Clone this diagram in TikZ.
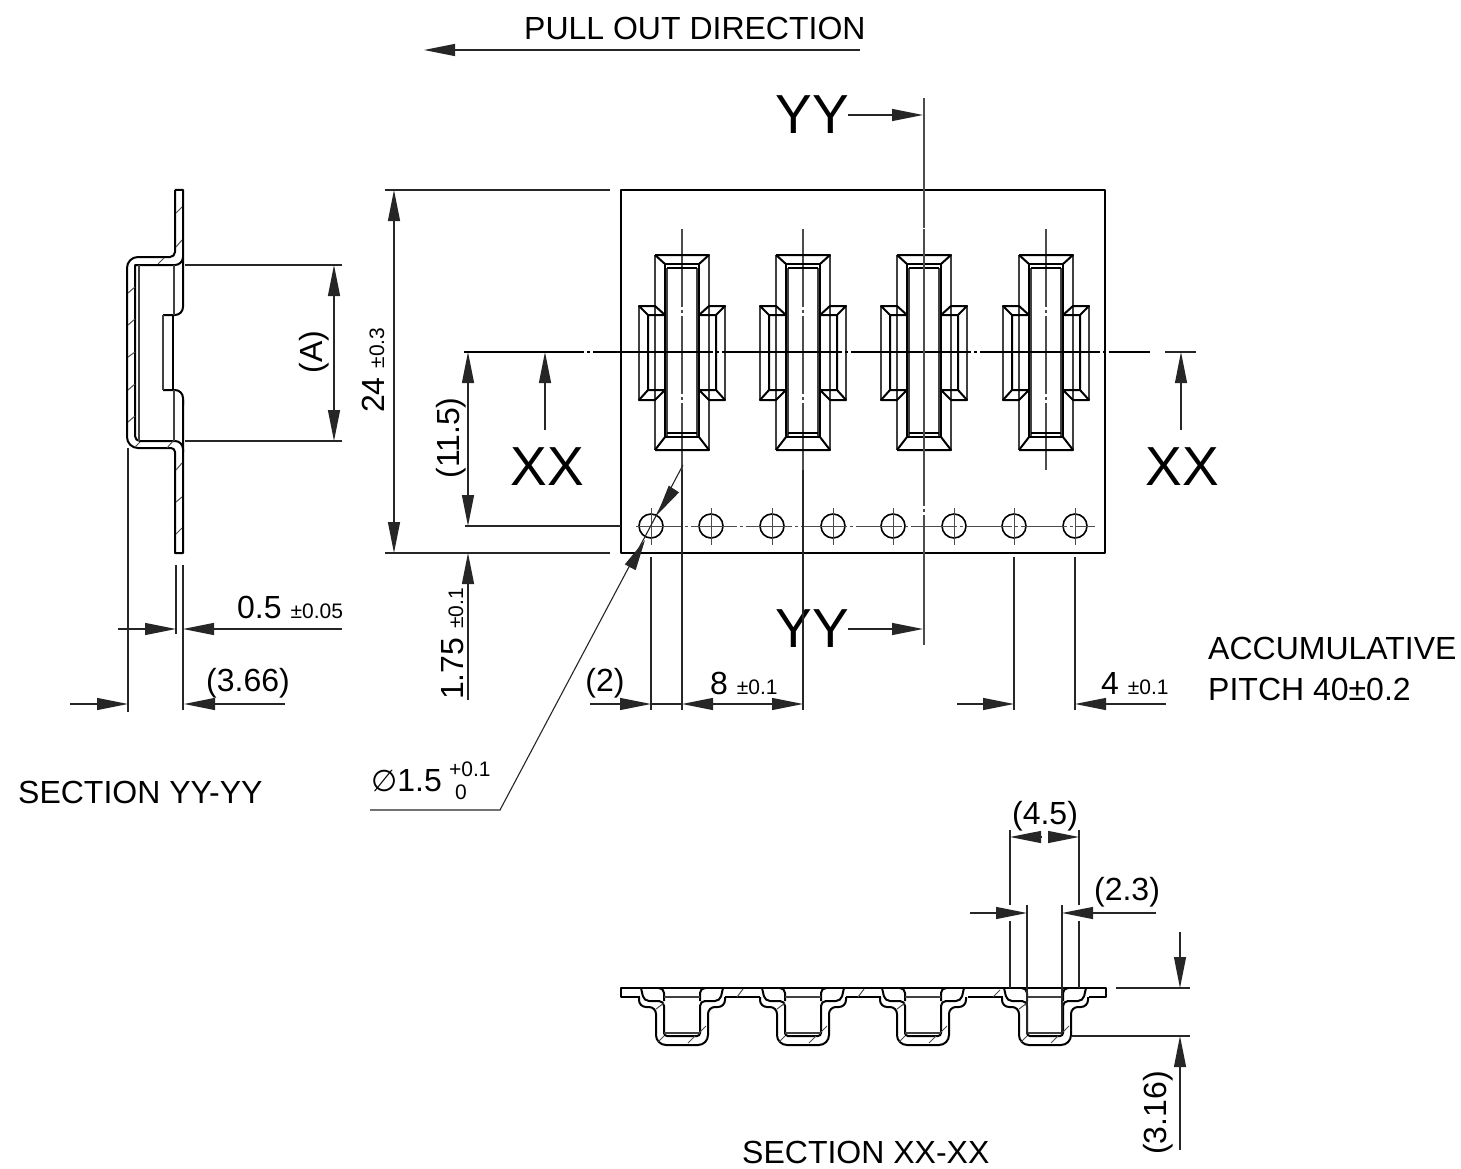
\documentclass[tikz,border=0pt]{standalone}
\usepackage{fontspec}
\setmainfont{Liberation Sans}
\newfontfamily\symbolfont{DejaVu Sans}
\usetikzlibrary{arrows.meta}
\begin{document}
\begin{tikzpicture}[x=1pt,y=-1pt,
    >={Triangle[length=31pt,width=12pt]},
    outline/.style={line width=2pt,line join=round},
    edge/.style={line width=1.2pt,black!75},
    dimline/.style={line width=1.1pt,black!85},
    centerline/.style={line width=1.1pt,black!70,dash pattern=on 78pt off 3pt on 3pt off 3pt},
    holeline/.style={line width=1pt,black!70,dash pattern=on 46pt off 3pt on 3pt off 3pt},
    hatch/.style={line width=1pt,black!70},
    label/.style={inner sep=0pt,font=\fontsize{32}{32}\selectfont},
    tol/.style={inner sep=0pt,font=\fontsize{21}{21}\selectfont},
    bigmark/.style={inner sep=0pt,font=\fontsize{55}{55}\selectfont}]
\def\tolsize{\fontsize{21}{21}\selectfont}
\useasboundingbox (0,0) rectangle (1461,1169);

% top view
\draw[outline] (621,190) rectangle (1105,553);
\foreach \cx in {682,803,924,1046} {
    \begin{scope}[shift={(\cx,0)}]
        \draw[centerline] (0,229) -- (0,470);
        \draw[edge] (-27,255) -- (-27,450) (27,255) -- (27,450) (-15,268) -- (-15,437) (15,268) -- (15,437);
        \draw[edge] (-43,306) -- (-43,400) (43,306) -- (43,400);
        \draw[outline] (-17,264) rectangle (17,437);
        \draw[outline] (-27,255) -- (27,255) -- (17,264) (-27,255) -- (-17,264);
        \draw[outline] (-27,450) -- (27,450) -- (17,437) (-27,450) -- (-17,437);
        \draw[line width=1.4pt] (-15,268) -- (15,268) (-15,433) -- (15,433);
        \draw[outline] (-17,315) -- (-27,306) -- (-43,306) -- (-34,315) -- (-17,315) (-34,315) -- (-34,390) -- (-17,390) -- (-27,400) -- (-43,400) -- (-34,390);
        \draw[outline] (17,315) -- (27,306) -- (43,306) -- (34,315) -- (17,315) (34,315) -- (34,390) -- (17,390) -- (27,400) -- (43,400) -- (34,390);
    \end{scope}
}
\foreach \hx in {651,711,772,833,893,954,1014,1075} {
    \draw[outline,line width=1.6pt] (\hx,526) circle (12pt);
    \draw[hatch] (\hx,508) -- (\hx,545);
}
\draw[holeline] (636,526) -- (1095,526);
\draw[line width=1.2pt,dash pattern=on 120pt off 3pt on 3pt off 3pt] (464,352) -- (1150,352);
\draw[centerline,dash pattern=on 130pt off 3pt on 3pt off 3pt] (924,98) -- (924,645);

% section marks
\node[bigmark] (markYYtop) at (812,115) {YY};
\node[bigmark] (markYYbot) at (812,629) {YY};
\node[bigmark] (markXXleft) at (547,467) {XX};
\node[bigmark] (markXXright) at (1182,467) {XX};
\draw[dimline,->] (848,115) -- (923,115);
\draw[dimline,->] (848,629) -- (923,629);
\draw[dimline,->] (545,430) -- (545,352);
\draw[dimline,->] (1181,430) -- (1181,352);
\draw[dimline] (1165,352) -- (1196,352);

% pull out
\node[label,anchor=base west] (pullout) at (524,40) {PULL OUT DIRECTION};
\draw[dimline,->] (860,50) -- (424,50);

% dimensions of top view
\draw[dimline] (385,190) -- (610,190) (385,553) -- (610,553) (465,526) -- (621,526);
\draw[dimline,<->] (394,190) -- (394,553);
\draw[dimline,<->] (468,352) -- (468,526);
\draw[dimline,->] (468,700) -- (468,553);
\node[label,rotate=90,anchor=base west] (dimA) at (384,413) {24 {\tolsize ±0.3}};
\node[label,rotate=90] (dimB) at (451,438) {(11.5)};
\node[label,rotate=90,anchor=base west] (dimC) at (463,700) {1.75 {\tolsize ±0.1}};
\draw[dimline] (651,557) -- (651,710) (1014,557) -- (1014,710) (1075,557) -- (1075,710);
\draw[dimline] (682,470) -- (682,710) (803,470) -- (803,710);
\draw[dimline,->] (590,704) -- (651,704);
\draw[dimline,<->] (682,704) -- (803,704);
\draw[dimline,->] (957,704) -- (1014,704);
\draw[dimline,->] (1166,704) -- (1075,704);
\draw[dimline] (651,704) -- (682,704);
\node[label] (dimD) at (605,683) {(2)};
\node[label,anchor=base west] (dimE) at (710,694) {8 {\tolsize ±0.1}};
\node[label,anchor=base west] (dimF) at (1101,694) {4 {\tolsize ±0.1}};
\node[label,anchor=base west] (noteA) at (1208,659) {ACCUMULATIVE};
\node[label,anchor=base west] (noteB) at (1208,700) {PITCH 40±0.2};

% hole leader
\coordinate (holeleft) at (500,810);
\draw[dimline] (370,810) -- (holeleft) -- (683,465);
\draw[dimline,->] (632,564) -- (645,540);
\draw[dimline,->] (670,495) -- (657,515);
\node[label,anchor=base west] (dia) at (371,791) {{\symbolfont\fontsize{30}{30}\selectfont ∅}1.5};
\node[tol,anchor=base west] (diaup) at (449,776) {+0.1};
\node[tol,anchor=base west] (dialow) at (455,799) {0};

% section YY
\draw[outline] (175,190) [rounded corners=5pt] -- (175,257) [rounded corners=11pt] -- (127,257) -- (127,448) [rounded corners=4pt] -- (175,448) [sharp corners] -- (175,553) -- (183,553) -- (183,400);
\draw[outline] (175,190) -- (183,190) [rounded corners=8pt] -- (183,315) -- (163,315);
\draw[outline] (173,315) -- (173,390);
\draw[outline,rounded corners=8pt] (163,390) -- (183,390) -- (183,405);
\draw[outline] (183,257) [rounded corners=8pt] -- (183,265) [sharp corners] -- (135,265) [rounded corners=5pt] -- (135,441) [rounded corners=8pt] -- (183,441) -- (183,452);
\draw[edge] (139,265) -- (139,441) (174,265) -- (174,315) (174,390) -- (174,441) (163,315) -- (163,390);
\foreach \ya/\yb in {213/207,247/240,470/463,502/497,534/528} {
    \draw[hatch] (176,\ya) -- (182,\yb);
}
\foreach \ya/\yb in {293/287,325/319,357/352,390/384,422/416} {
    \draw[hatch] (128,\ya) -- (135,\yb);
}
\draw[hatch] (158,264) -- (164,258) (135,447) -- (140,442) (167,448) -- (173,441);
\draw[dimline] (128,448) -- (128,712) (176,565) -- (176,634) (183,565) -- (183,710);
\draw[dimline] (185,265) -- (342,265) (185,441) -- (342,441);
\draw[dimline,<->] (334,265) -- (334,441);
\draw[dimline,->] (118,629) -- (176,629);
\draw[dimline,->] (342,629) -- (183,629);
\draw[dimline,->] (70,704) -- (128,704);
\draw[dimline,->] (285,704) -- (184,704);
\node[label,rotate=90] (dimG) at (314,352) {(A)};
\node[label,anchor=base west] (dimH) at (237,618) {0.5 {\tolsize ±0.05}};
\node[label] (dimI) at (248,683) {(3.66)};
\node[label,anchor=base west] (secYY) at (18,803) {SECTION YY-YY};

% section XX
\draw[outline] (621,988) rectangle (1106,997);
\draw[white,line width=3pt] (640,997) -- (725,997) (760,997) -- (846,997) (881,997) -- (968,997) (1003,997) -- (1089,997);
\draw[white,line width=3pt] (644,991) -- (720,991);
\foreach \cx in {682,803,923,1045} {
    \begin{scope}[shift={(\cx,0)}]
        \draw[white,fill=white] (-40,990) rectangle (40,1005);
        \draw[outline] (-43,997) [rounded corners=7pt] -- (-43,1007) -- (-26,1007) [rounded corners=10pt] -- (-26,1045) -- (26,1045) [rounded corners=7pt] -- (26,1007) -- (43,1007) [sharp corners] -- (43,997);
        \draw[outline] (-41,988) [rounded corners=5pt] -- (-38,1001) -- (-18,1001) [rounded corners=3pt] -- (-18,1036) -- (18,1036) [rounded corners=5pt] -- (18,1001) -- (38,1001) [sharp corners] -- (41,988);
        \draw[outline,rounded corners=5pt] (-24,988) -- (-18,988) -- (-18,1001);
        \draw[outline,rounded corners=5pt] (24,988) -- (18,988) -- (18,1001);
        \draw[outline] (-24,988) -- (24,988);
        \draw[edge] (-18,997) -- (18,997) (-18,1033) -- (18,1033);
        \draw[hatch] (-26,1009) -- (-18,1003) (-24,1042) -- (-18,1036) (6,1043) -- (13,1036) (17,1033) -- (24,1026);
    \end{scope}
}
\draw[hatch] (737,997) -- (743,989) (858,997) -- (864,989) (993,997) -- (1000,990);
\draw[dimline] (1010,830) -- (1010,905) (1010,921) -- (1010,988) (1079,830) -- (1079,905) (1079,921) -- (1079,988);
\draw[dimline] (1027,905) -- (1027,1034) (1062,905) -- (1062,1034);
\draw[dimline,->] (1041,837) -- (1010,837);
\draw[dimline,->] (1048,837) -- (1079,837);
\draw[dimline,->] (970,913) -- (1027,913);
\draw[dimline,->] (1156,913) -- (1062,913);
\draw[dimline] (1116,988) -- (1190,988) (1072,1036) -- (1190,1036);
\draw[dimline,->] (1180,932) -- (1180,988);
\draw[dimline,->] (1180,1150) -- (1180,1036);
\node[label] (dimJ) at (1045,816) {(4.5)};
\node[label] (dimK) at (1127,892) {(2.3)};
\node[label,rotate=90] (dimL) at (1158,1113) {(3.16)};
\node[label,anchor=base west] (secXX) at (742,1163) {SECTION XX-XX};
\end{tikzpicture}
\end{document}
